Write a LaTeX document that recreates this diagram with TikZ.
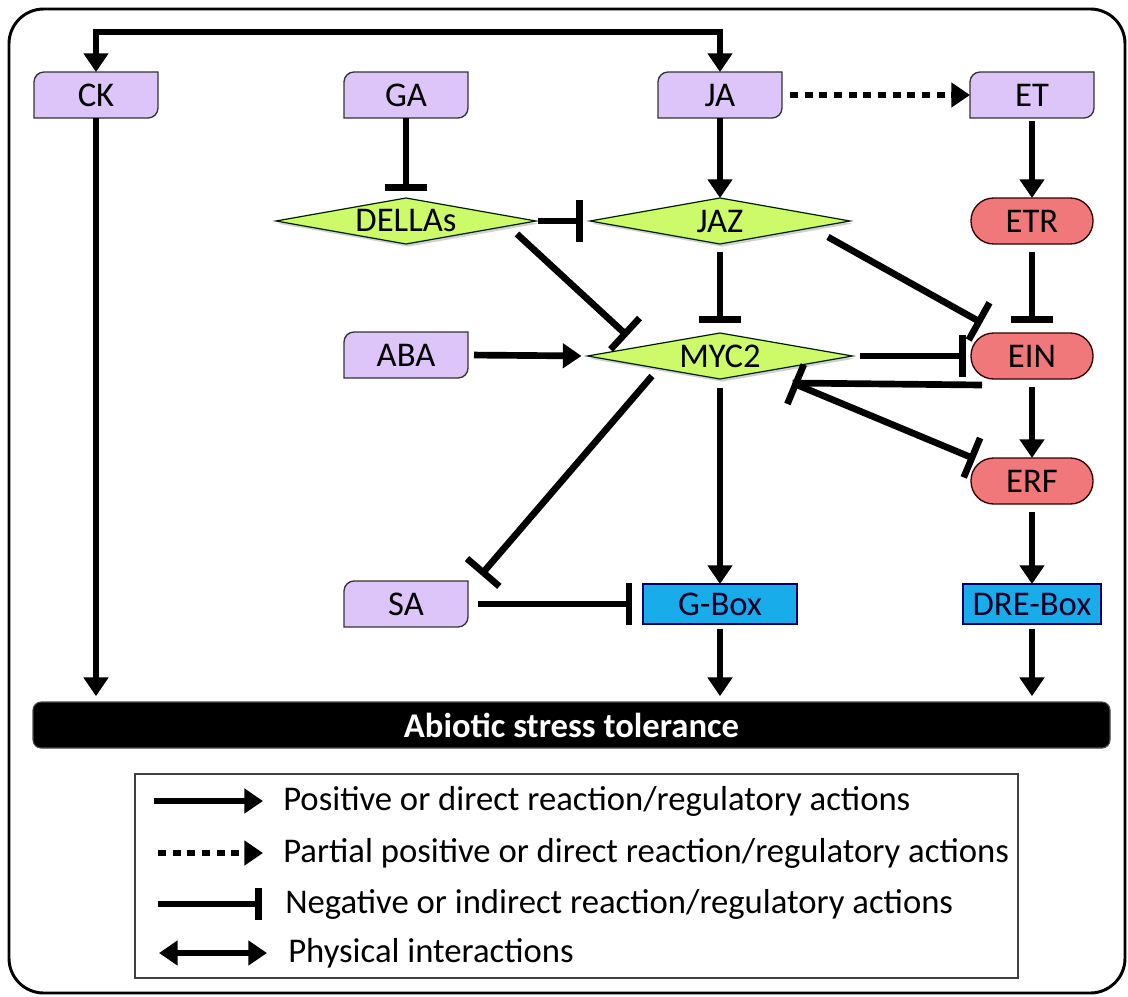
\documentclass[tikz,border=0pt]{standalone}
\usepackage{fontspec}
\setmainfont{Carlito}
\usetikzlibrary{arrows.meta,calc}
\pgfdeclarelayer{background}
\pgfsetlayers{background,main}
\definecolor{hpurple}{RGB}{221,197,250}
\definecolor{dgreen}{RGB}{205,250,105}
\definecolor{pred}{RGB}{240,120,122}
\definecolor{bblue}{RGB}{25,172,235}
\newcommand\fs{\fontsize{26}{31}\selectfont}
\tikzset{
  hnode/.style={rectangle, minimum width=93pt, minimum height=34.5pt, inner sep=0pt, outer sep=0pt, font=\fs},
  hshape/.style={fill=hpurple, draw=black!80, line width=1pt},
  dnode/.style={rectangle, minimum height=34.5pt, inner sep=0pt, outer sep=0pt, font=\fs},
  dshape/.style={fill=dgreen, draw=black!70!green!40!black, line width=0.9pt},
  pill/.style={rectangle, rounded corners=17pt, minimum width=91.5pt, minimum height=34.5pt, inner sep=0pt, outer sep=0pt, fill=pred, draw=black!80!red, line width=1pt, font=\fs},
  bbox/.style={rectangle, minimum height=30pt, inner sep=0pt, outer sep=0pt, fill=bblue, draw=blue!40!black, line width=0.9pt, font=\fs, text=black!85!blue},
  arr/.style={line width=5pt, -{Triangle[length=14pt,width=18pt]}},
  dotarr/.style={line width=5pt, dash pattern=on 6pt off 5pt, -{Triangle[length=14pt,width=18pt]}},
  inh/.style={line width=5pt, -{Bar[width=32pt]}},
  inhboth/.style={line width=5pt, {Bar[width=32pt]}-{Bar[width=32pt]}},
  plain/.style={line width=5pt},
  both/.style={line width=5pt, {Triangle[length=14pt,width=18pt]}-{Triangle[length=14pt,width=18pt]}},
  legtext/.style={anchor=west, inner sep=0pt, font=\fs},
}
\newcommand\hormonebox[4]{%
  \node[hnode] (#1) at (#2,#3) {#4};
  \begin{pgfonlayer}{background}
  \draw[hshape] ([yshift=-7.5pt]#1.north west) arc[start angle=180,end angle=90,radius=7.5pt] -- (#1.north east) -- ([yshift=7.5pt]#1.south east) arc[start angle=0,end angle=-90,radius=7.5pt] -- (#1.south west) -- cycle;
  \end{pgfonlayer}}
\newcommand\diamondnode[5]{%
  \node[dnode, minimum width=#4] (#1) at (#2,#3) {#5};
  \begin{pgfonlayer}{background}
  \fill[black, opacity=.18] ([shift={(1.5pt,-2pt)}]#1.west) -- ([shift={(1.5pt,-2pt)}]#1.north) -- ([shift={(1.5pt,-2pt)}]#1.east) -- ([shift={(1.5pt,-2pt)}]#1.south) -- cycle;
  \draw[dshape] (#1.west) -- (#1.north) -- (#1.east) -- (#1.south) -- cycle;
  \end{pgfonlayer}}
\begin{document}
\begin{tikzpicture}[x=0.75pt, y=-0.75pt]
\useasboundingbox (0,0) rectangle (1128,996);
% frame
\draw[line width=2.2pt, rounded corners=26pt] (9,9) rectangle (1125,993);
% hormones
\hormonebox{ck}{96}{95}{CK}
\hormonebox{ga}{406}{95}{GA}
\hormonebox{ja}{720}{95}{JA}
\hormonebox{et}{1032}{95}{ET}
\hormonebox{aba}{406}{355}{ABA}
\hormonebox{sa}{406}{604}{SA}
% diamonds
\diamondnode{della}{406}{221}{195pt}{DELLAs}
\diamondnode{jaz}{720}{221}{195pt}{JAZ}
\diamondnode{myc}{720}{356}{198.75pt}{MYC2}
% red pills
\node[pill] (etr) at (1032,221) {ETR};
\node[pill] (ein) at (1032,356) {EIN};
\node[pill] (erf) at (1032,481) {ERF};
% blue boxes
\node[bbox, minimum width=115.5pt] (gbox) at (720,604) {G-Box};
\node[bbox, minimum width=103.5pt] (dre) at (1032,604) {DRE-Box};
% bar
\node[rectangle, fill=black, draw=black!70, line width=0.8pt, rounded corners=6pt, minimum width=807.75pt, minimum height=34.5pt, inner sep=0pt, text=white, font=\fs\bfseries] (bar) at (571.5,725) {Abiotic stress tolerance};
% connectors
\coordinate (topbend) at (400,32);
\draw[both] (ck.north) |- (topbend) -| (ja.north);
\draw[dotarr, shorten <=6pt] (ja.east) -- (et.west);
\draw[inh, shorten >=5.25pt] (ga.south) -- (della.north);
\draw[arr] (ja.south) -- (jaz.north);
\draw[inh, shorten <=1.5pt, shorten >=5.25pt] (della.east) -- (jaz.west);
\draw[inh, shorten <=6pt, shorten >=7.5pt] (jaz.south) -- (myc.north);
\draw[inh] ($(della.east)+(-19,13)$) -- ($(myc.west)+(40,-20)$);
\draw[arr, shorten <=4.5pt, shorten >=4.5pt] (aba.east) -- (myc.west);
\draw[inh] ($(jaz.east)+(-22,16)$) -- ($(ein.west)+(11,-33)$);
\draw[arr, shorten <=2pt] (et.south) -- (etr.north);
\draw[inh, shorten <=6pt, shorten >=7.5pt] (etr.south) -- (ein.north);
\draw[inh, shorten <=5.25pt, shorten >=4pt] (myc.east) -- (ein.west);
\draw[arr, shorten <=6pt] (ein.south) -- (erf.north);
\coordinate (mycin) at ($(myc.east)+(-60,27)$);
\draw[plain] ($(ein.west)+(11,29)$) -- (mycin);
\draw[inhboth] (mycin) -- ($(erf.west)+(4,-22)$);
\draw[inh] ($(myc.south)+(-68,-3)$) -- ($(sa.north east)+(13,-6)$);
\draw[inh, shorten <=7.5pt, shorten >=8pt] (sa.east) -- (gbox.west);
\draw[arr, shorten <=7pt] (myc.south) -- (gbox.north);
\draw[arr, shorten <=6pt] (erf.south) -- (dre.north);
\draw[arr, shorten <=4pt, shorten >=4pt] (gbox.south) -- (gbox.south |- bar.north);
\draw[arr, shorten <=4pt, shorten >=4pt] (dre.south) -- (dre.south |- bar.north);
\draw[arr, shorten >=4pt] (ck.south) -- (ck.south |- bar.north);
% legend
\draw[line width=1.1pt, draw=black!75] (135,774) rectangle (1018,978);
\coordinate (la1) at (154,801); \coordinate (lb1) at (263,801);
\coordinate (la2) at (158,853); \coordinate (lb2) at (263,853);
\coordinate (la3) at (158,904); \coordinate (lb3) at (262,904);
\coordinate (la4) at (159,953); \coordinate (lb4) at (267,953);
\draw[arr] (la1) -- (lb1);
\draw[dotarr] (la2) -- (lb2);
\draw[line width=5pt, -{Bar[width=24pt]}] (la3) -- (lb3);
\draw[both] (la4) -- (lb4);
\node[legtext] (t1) at (283,801) {Positive or direct reaction/regulatory actions};
\node[legtext] (t2) at (283,853) {Partial positive or direct reaction/regulatory actions};
\node[legtext] (t3) at (285,904) {Negative or indirect reaction/regulatory actions};
\node[legtext] (t4) at (288,953) {Physical interactions};
\end{tikzpicture}
\end{document}
